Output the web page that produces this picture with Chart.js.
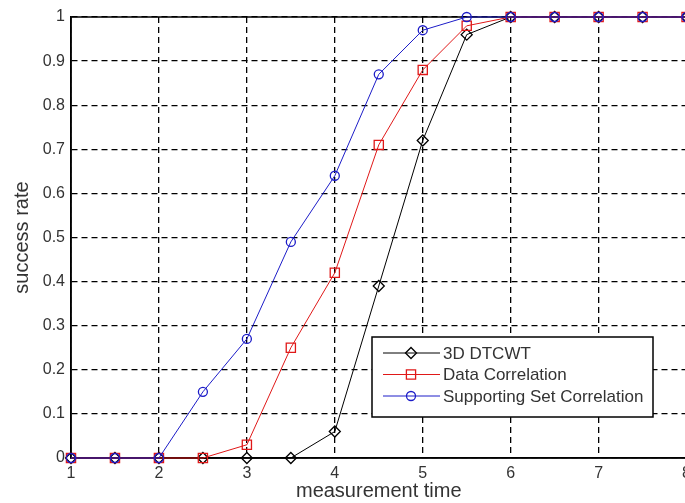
<!DOCTYPE html>
<html>
<head>
<meta charset="utf-8">
<script src="https://cdn.jsdelivr.net/npm/chart.js@4/dist/chart.umd.min.js"></script>
<style>
  html, body { margin:0; padding:0; background:#fff; overflow:hidden; }
  #wrap { width:685px; height:503px; overflow:hidden; position:relative; }
  canvas { display:block; }
</style>
</head>
<body>
<div id="wrap"><canvas id="chart" width="697" height="503"></canvas></div>
<script>
// --- Data ---
const times = [1, 1.5, 2, 2.5, 3, 3.5, 4, 4.5, 5, 5.5, 6, 6.5, 7, 7.5, 8];
const dtcwt    = [0, 0, 0, 0, 0, 0, 0.06, 0.39, 0.72, 0.96, 1, 1, 1, 1, 1];
const dataCorr = [0, 0, 0, 0, 0.03, 0.25, 0.42, 0.71, 0.88, 0.98, 1, 1, 1, 1, 1];
const suppCorr = [0, 0, 0, 0.15, 0.27, 0.49, 0.64, 0.87, 0.97, 1, 1, 1, 1, 1, 1];
const seriesNames = ['3D DTCWT', 'Data Correlation', 'Supporting Set Correlation'];
const xTicks = [1, 2, 3, 4, 5, 6, 7, 8];
const yTicks = [0, 0.1, 0.2, 0.3, 0.4, 0.5, 0.6, 0.7, 0.8, 0.9, 1];

const pts = vals => times.map((t, i) => ({x: t, y: vals[i]}));
const TXT = '#333';
const FONT = '"Liberation Sans", Arial, sans-serif';

function series(label, vals, color, style, r, order){
  return {
    label, data: pts(vals), order, clip: false,
    borderColor: color, borderWidth: 1,
    pointStyle: style, pointRadius: r, pointHoverRadius: r,
    pointBorderColor: color, pointBackgroundColor: 'rgba(0,0,0,0)',
    pointBorderWidth: 1.3, tension: 0
  };
}

// box around the axes (MATLAB style), under the data
const boxPlugin = {
  id: 'box',
  beforeDatasetsDraw(chart){
    const {ctx, chartArea: a} = chart;
    ctx.save();
    ctx.strokeStyle = '#000'; ctx.lineWidth = 1.5;
    ctx.strokeRect(a.left, a.top, a.right - a.left, a.bottom - a.top);
    ctx.restore();
  }
};

// legend box inside the plot, lower right
const legendPlugin = {
  id: 'boxLegend',
  afterDraw(chart){
    const {ctx} = chart;
    const x0 = 372, y0 = 337, w = 281, h = 80;
    ctx.save();
    ctx.fillStyle = '#fff';
    ctx.fillRect(x0, y0, w, h);
    ctx.strokeStyle = '#000'; ctx.lineWidth = 1.5;
    ctx.strokeRect(x0, y0, w, h);
    ctx.font = '17px ' + FONT;
    ctx.textBaseline = 'middle';
    chart.data.datasets.forEach((ds, i) => {
      const y = y0 + 16 + i * 21.5;
      ctx.strokeStyle = ds.borderColor; ctx.lineWidth = 1;
      ctx.beginPath(); ctx.moveTo(x0 + 11, y); ctx.lineTo(x0 + 68, y); ctx.stroke();
      ctx.fillStyle = 'rgba(0,0,0,0)'; ctx.lineWidth = 1.3;
      Chart.helpers.drawPoint(ctx, {pointStyle: ds.pointStyle, radius: ds.pointRadius, borderWidth: 1.3, rotation: 0},
        x0 + 39, y);
      ctx.fillStyle = TXT;
      ctx.fillText(ds.label, x0 + 71, y + 1);
    });
    ctx.restore();
  }
};

new Chart(document.getElementById('chart'), {
  type: 'line',
  data: {
    datasets: [
      series(seriesNames[0], dtcwt, '#000000', 'rectRot', 5.5, 3),
      series(seriesNames[1], dataCorr, '#e01818', 'rect', 6.5, 2),
      series(seriesNames[2], suppCorr, '#1c1cc8', 'circle', 4.5, 1)
    ]
  },
  options: {
    responsive: false,
    animation: false,
    devicePixelRatio: 1,
    layout: { padding: { top: 17, right: 0, bottom: 0, left: 0 } },
    plugins: { legend: { display: false }, tooltip: { enabled: false } },
    scales: {
      x: {
        type: 'linear', min: 1, max: 8,
        afterBuildTicks: s => { s.ticks = xTicks.map(v => ({value: v})); },
        afterFit: s => { s.height = 45; },
        grid: { color: '#000', lineWidth: 1.3, drawTicks: false },
        border: { display: true, color: '#000', width: 1.5, dash: [6, 4] },
        ticks: { color: TXT, font: { family: FONT, size: 16 }, padding: 6, maxRotation: 0 },
        title: { display: true, text: 'measurement time', color: TXT,
                 font: { family: FONT, size: 20 }, padding: { top: 0, bottom: 0 } }
      },
      y: {
        min: 0, max: 1,
        afterBuildTicks: s => { s.ticks = yTicks.map(v => ({value: v})); },
        afterFit: s => { s.width = 71; },
        grid: { color: '#000', lineWidth: 1.3, drawTicks: false },
        border: { display: true, color: '#000', width: 1.5, dash: [6, 4] },
        ticks: { color: TXT, font: { family: FONT, size: 16 }, padding: 6,
                 callback: v => String(Math.round(v * 10) / 10) },
        title: { display: true, text: 'success rate', color: TXT,
                 font: { family: FONT, size: 20 }, padding: { top: 10, bottom: 0 } }
      }
    }
  },
  plugins: [boxPlugin, legendPlugin]
});
</script>
</body>
</html>
